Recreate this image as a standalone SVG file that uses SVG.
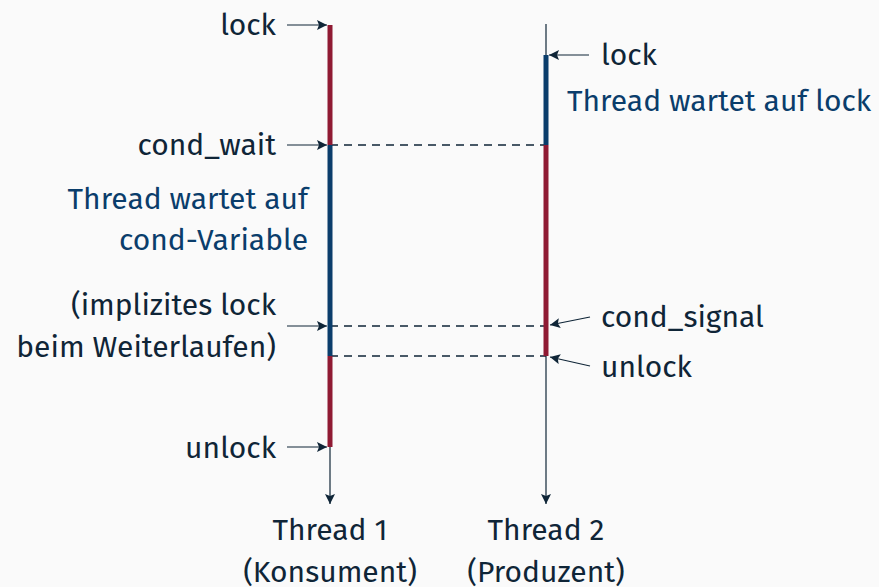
<svg xmlns="http://www.w3.org/2000/svg" width="879" height="587" viewBox="0 0 879 587">
<defs>
<style>
text{font-family:"Fira Sans","Open Sans","Noto Sans",sans-serif;font-size:30px;fill:#0f2537}
.b{fill:#0a3d6b}
.r{text-anchor:end}
.m{text-anchor:middle}
.thin{stroke:#0f2537;stroke-width:1.2;fill:none}
.dash{stroke:#0f2537;stroke-width:1.4;stroke-dasharray:8,6;fill:none}
.red{stroke:#8f1a33;stroke-width:5}
.blue{stroke:#0a3d6b;stroke-width:5}
</style>
<marker id="ah" viewBox="0 0 10 10" refX="10" refY="5" markerWidth="10" markerHeight="10" markerUnits="userSpaceOnUse" orient="auto">
<path d="M0,0 L10,5 L0,10 L2,5 Z" fill="#0f2537"/>
</marker>
</defs>
<rect width="879" height="587" fill="#fafafa"/>
<g id="connectors">
<line class="dash" x1="330" y1="145" x2="546" y2="145"/>
<line class="dash" x1="330" y1="326" x2="546" y2="326"/>
<line class="dash" x1="330" y1="356" x2="546" y2="356"/>
<line class="thin" x1="287" y1="25" x2="327" y2="25" marker-end="url(#ah)"/>
<line class="thin" x1="287" y1="145" x2="327" y2="145" marker-end="url(#ah)"/>
<line class="thin" x1="287" y1="326" x2="327" y2="326" marker-end="url(#ah)"/>
<line class="thin" x1="287" y1="447" x2="327" y2="447" marker-end="url(#ah)"/>
<line class="thin" x1="589" y1="55" x2="549" y2="55" marker-end="url(#ah)"/>
<line class="thin" x1="590" y1="317" x2="550" y2="325" marker-end="url(#ah)"/>
<line class="thin" x1="590" y1="366" x2="550" y2="357" marker-end="url(#ah)"/>
</g>
<g id="thread1">
<line class="thin" x1="330" y1="447" x2="330" y2="504" marker-end="url(#ah)"/>
<line class="red" x1="330" y1="25" x2="330" y2="145"/>
<line class="blue" x1="330" y1="145" x2="330" y2="356"/>
<line class="red" x1="330" y1="356" x2="330" y2="447"/>
<text class="m" x="330" y="540">Thread 1</text>
<text class="m" x="330" y="582">(Konsument)</text>
</g>
<g id="thread2">
<line class="thin" x1="546" y1="24" x2="546" y2="504" marker-end="url(#ah)"/>
<line class="blue" x1="546" y1="55" x2="546" y2="145"/>
<line class="red" x1="546" y1="145" x2="546" y2="356"/>
<text class="m" x="546" y="540">Thread 2</text>
<text class="m" x="546" y="582">(Produzent)</text>
</g>
<g id="labels-left">
<text class="r" x="276" y="35">lock</text>
<text class="r" x="276" y="155">cond_wait</text>
<text class="r b" x="308" y="209">Thread wartet auf</text>
<text class="r b" x="308" y="250">cond-Variable</text>
<text class="r" x="276" y="315">(implizites lock</text>
<text class="r" x="276" y="357">beim Weiterlaufen)</text>
<text class="r" x="276" y="458">unlock</text>
</g>
<g id="labels-right">
<text x="601" y="65">lock</text>
<text class="b" x="567" y="111">Thread wartet auf lock</text>
<text x="601" y="327">cond_signal</text>
<text x="601" y="377">unlock</text>
</g>
</svg>
